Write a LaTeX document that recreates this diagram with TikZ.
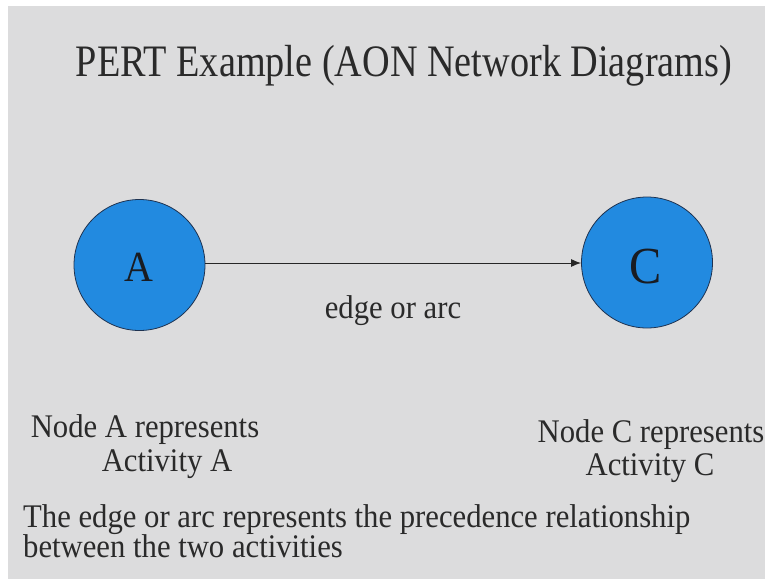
\documentclass[tikz,border=0pt]{standalone}
\usepackage{fontspec}
\setmainfont{Liberation Serif}
\newfontfamily\titlefont{Liberation Serif}[FakeStretch=0.85]
\newfontfamily\bodyfont{Liberation Serif}[FakeStretch=0.93]
\usetikzlibrary{arrows.meta}
\definecolor{slidebg}{RGB}{220,220,221}
\definecolor{nodeblue}{RGB}{34,138,224}
\definecolor{nodeedge}{RGB}{30,50,80}
\definecolor{ink}{RGB}{42,42,42}
\definecolor{letterink}{RGB}{25,28,34}
\tikzset{
  activity/.style={circle, fill=nodeblue, draw=nodeedge, line width=0.8pt,
    minimum size=131pt, inner sep=0pt},
  txt/.style={text=ink, inner sep=0pt, anchor=base, font=\bodyfont\fontsize{33}{33}\selectfont},
  edgeline/.style={draw=black!85, line width=1pt, -{Latex[length=10pt,width=8pt]}}
}
\begin{document}
\begin{tikzpicture}[x=1pt,y=-1pt]
  \useasboundingbox (0,0) rectangle (765,578);
  \fill[white] (0,0) rectangle (766,579);
  \fill[slidebg] (8,6) rectangle (766,579);

  % title
  \node[txt, font=\titlefont\fontsize{45}{45}\selectfont] (title) at (404,76)
    {PERT Example (AON Network Diagrams)};

  % the two activities and the precedence edge
  \node[activity] (A) at (139.5,265) {};
  \node[activity] (C) at (647,262.5) {};
  \node[txt, text=letterink, font=\bodyfont\fontsize{43}{43}\selectfont] (Alabel) at (139,281) {A};
  \node[txt, text=letterink, font=\bodyfont\fontsize{52}{52}\selectfont] (Clabel) at (646,283.5) {C};
  \draw[edgeline] (A.east |- 0,263) -- (C.west |- 0,263);

  \node[txt] (edgelbl) at (393,318) {edge or arc};

  % captions under the nodes
  \node[txt] (capA) at (145,437) {Node A represents};
  \node[txt] (capAb) at (167,471) {Activity A};
  \node[txt] (capC) at (651,442) {Node C represents};
  \node[txt] (capCb) at (650,475) {Activity C};

  % explanatory note
  \node[txt, anchor=base west] (note) at (23,527)
    {The edge or arc represents the precedence relationship};
  \node[txt, anchor=base west] (noteb) at (23,557.5)
    {between the two activities};
\end{tikzpicture}
\end{document}
